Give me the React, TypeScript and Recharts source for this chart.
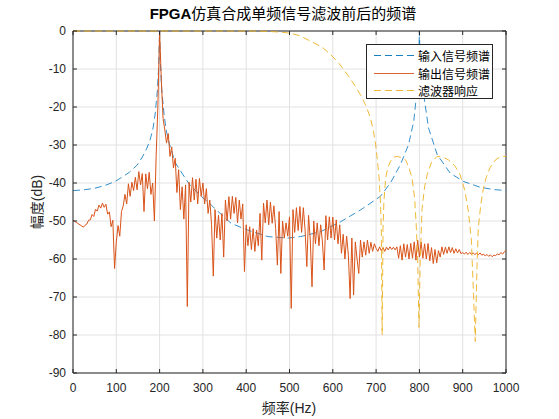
import { CartesianGrid, Line, LineChart, ReferenceLine, XAxis, YAxis } from 'recharts';

// 频率轴 / 幅度轴刻度
const freqTicks = [0, 100, 200, 300, 400, 500, 600, 700, 800, 900, 1000];
const dbTicks = [-90, -80, -70, -60, -50, -40, -30, -20, -10, 0];

// 输入信号频谱 (blue dashed)
const inputFreq = [
  0, 25, 50, 75, 97, 110, 130, 148, 160, 170, 178, 185, 190, 195, 198, 200,
  202, 205, 210, 215, 222, 236, 259, 270, 297, 312, 335, 365, 404, 450, 496,
  526, 572, 618, 664, 710, 733, 756, 775, 787, 795, 798, 800, 802, 805, 810,
  821, 841, 871, 902, 940, 970, 1000,
];
const inputDb = [
  -42, -41.8, -41.4, -40.6, -39.6, -38.7, -37.2, -35.3, -33.2, -31, -28.7, -25.5, -21.6, -15.5, -9, 0,
  -9, -15.5, -21.6, -26, -29.5, -34.6, -38.7, -40.5, -43.6, -45, -47.5, -50.6, -52.4, -54.1, -54.5,
  -54.1, -52.8, -50.2, -47.1, -43.5, -40, -35.2, -29.9, -23.7, -15, -9, 0, -9, -13, -16.8,
  -25.5, -32.5, -37.4, -39.6, -41.1, -41.7, -42,
];

// 滤波器响应 (yellow dashed)
const filterFreq = [
  0, 100, 200, 300, 400, 450, 480, 503, 525, 549, 575, 595, 615, 634, 650, 664,
  677, 687, 694, 699, 703, 707, 710, 712, 714, 716, 718, 722, 727, 733, 741,
  749, 758, 768, 776, 783, 789, 793, 796, 799, 802, 806, 812, 818, 828, 841,
  854, 867, 882, 894, 905, 913, 920, 925, 929, 933, 936, 942, 948, 955, 963,
  975, 985, 994, 1000,
];
const filterDb = [
  0, 0, 0, 0, 0, -0.1, -0.3, -0.6, -1.3, -2.7, -4.2, -6.2, -8.6, -11.5, -14.2, -16.8,
  -19.8, -22.9, -26.5, -29.9, -34, -38.7, -45, -51.8, -80, -52, -45, -38.7, -36, -34.3, -33.2,
  -33, -33.3, -33.9, -36, -38.7, -44, -51.8, -60, -78, -60, -47, -41, -37.8, -34.5, -33,
  -33.2, -33.9, -35.5, -37.8, -42, -47.4, -55, -69.4, -81.7, -62, -51.8, -45.5, -41.3, -38.3, -36,
  -34, -33.2, -33, -33,
];

// 输出信号频谱 (orange), one value every 4 Hz
const outputDb = [
  // 0 - 96
  -49.8, -50.1, -50.4, -50.7, -51.0, -51.3, -51.6, -51.1, -50.8, -49.8, -49.7, -48.3, -48.8,
  -46.9, -47.4, -45.8, -46.6, -45.3, -46.4, -45.6, -48.2, -47.6, -51.5, -49.8, -62.5,
  // 100 - 196
  -55.5, -51.2, -54.0, -47.5, -46.0, -43.0, -45.5, -40.2, -43.5, -39.8, -42.0, -38.5, -41.8,
  -37.0, -40.5, -37.5, -47.5, -37.6, -41.5, -37.2, -43.0, -40.0, -50.0, -33.0, -20.0,
  // 200 - 296
  0, -13.0, -23.0, -26.0, -29.5, -27.0, -33.0, -30.5, -36.0, -33.5, -42.5, -36.5, -47.0,
  -41.0, -49.5, -40.5, -72.5, -39.8, -45.0, -38.6, -44.5, -39.0, -45.5, -38.8, -43.5,
  // 300 - 396
  -40.0, -45.5, -41.5, -48.0, -44.5, -51.0, -64.5, -47.0, -54.5, -48.5, -55.0, -48.0, -59.5,
  -44.5, -50.0, -43.6, -49.5, -43.5, -48.0, -43.8, -50.5, -44.5, -49.5, -45.5, -63.3,
  // 400 - 496
  -51.0, -56.5, -51.5, -57.5, -52.0, -58.0, -52.4, -56.5, -48.0, -60.3, -45.3, -50.5, -44.5,
  -51.0, -45.0, -50.6, -46.0, -52.0, -61.6, -47.5, -63.8, -50.0, -54.5, -50.5, -54.0,
  // 500 - 596
  -48.9, -73.0, -47.0, -53.0, -46.5, -52.5, -46.2, -53.0, -46.5, -52.4, -62.0, -48.5, -55.0,
  -67.3, -50.0, -56.0, -50.5, -56.5, -51.0, -55.5, -62.9, -48.6, -55.0, -48.9, -54.5,
  // 600 - 696
  -49.0, -55.0, -49.7, -56.0, -51.0, -58.5, -53.5, -60.0, -54.0, -59.0, -70.4, -54.5, -69.5,
  -55.5, -60.0, -63.8, -55.0, -59.5, -55.5, -59.0, -55.0, -58.5, -55.6, -58.0, -56.0,
  // 700 - 796
  -57.2, -58.0, -56.8, -57.8, -57.0, -58.0, -56.9, -57.6, -56.8, -57.5, -56.9, -57.6, -56.8,
  -59.8, -56.5, -60.3, -56.0, -59.5, -56.2, -60.0, -55.9, -59.8, -55.5, -60.3, -55.0,
  // 800 - 896
  -59.5, -55.5, -59.8, -56.0, -60.0, -55.9, -60.5, -57.0, -61.2, -57.5, -61.0, -57.8, -59.5,
  -56.8, -58.8, -56.9, -58.5, -56.8, -58.3, -57.0, -58.5, -57.3, -58.4, -57.5, -58.6,
  // 900 - 1000
  -58.3, -58.7, -58.2, -58.8, -58.3, -58.7, -58.4, -58.8, -58.5, -58.9, -58.4, -59.0, -58.7,
  -59.2, -58.8, -59.3, -58.9, -59.4, -59.0, -59.1, -58.7, -58.9, -58.3, -58.7, -58.1, -57.8,
];
const outputStep = 4;

const inputData = inputFreq.map((f, i) => ({ f, db: inputDb[i] }));
const filterData = filterFreq.map((f, i) => ({ f, db: filterDb[i] }));
const outputData = outputDb.map((db, i) => ({ f: i * outputStep, db }));

const W = 559;
const H = 419;
const PLOT_W = 433;
const PLOT_H = 342;
const AXIS = '#262626';
const FONT = '"Liberation Sans", Arial, "Noto Sans CJK SC", sans-serif';

function XTick({ x, y, payload }: any) {
  return (
    <g>
      <line x1={x} x2={x} y1={y} y2={y - 4} stroke={AXIS} />
      <line x1={x} x2={x} y1={y - PLOT_H} y2={y - PLOT_H + 4} stroke={AXIS} />
      <text x={x} y={y + 19} textAnchor="middle" fontSize={12} fill={AXIS} fontFamily={FONT}>
        {payload.value}
      </text>
    </g>
  );
}

function YTick({ x, y, payload }: any) {
  return (
    <g>
      <line x1={x} x2={x + 4} y1={y} y2={y} stroke={AXIS} />
      <line x1={x + PLOT_W} x2={x + PLOT_W - 4} y1={y} y2={y} stroke={AXIS} />
      <text x={x - 7} y={y + 4} textAnchor="end" fontSize={12} fill={AXIS} fontFamily={FONT}>
        {payload.value}
      </text>
    </g>
  );
}

const legendItems = [
  { name: '输入信号频谱', color: '#0072BD', dash: '7 4' },
  { name: '输出信号频谱', color: '#D95319', dash: undefined },
  { name: '滤波器响应', color: '#EDB120', dash: '7 4' },
];

export default function App() {
  return (
    <div style={{ position: 'relative', width: W, height: H, background: '#fff', fontFamily: FONT }}>
      <style>{'body{margin:0;}'}</style>
      <LineChart width={W} height={H} margin={{ top: 31, right: 53, bottom: 0, left: 0 }}>
        <CartesianGrid stroke="#e2e2e2" />
        <XAxis
          dataKey="f"
          type="number"
          domain={[0, 1000]}
          ticks={freqTicks}
          interval={0}
          height={46}
          tickSize={0}
          tickMargin={0}
          tickLine={false}
          axisLine={{ stroke: AXIS }}
          tick={(p: any) => <XTick {...p} />}
        />
        <YAxis
          type="number"
          domain={[-90, 0]}
          ticks={dbTicks}
          interval={0}
          width={73}
          tickSize={0}
          tickMargin={0}
          tickLine={false}
          axisLine={{ stroke: AXIS }}
          tick={(p: any) => <YTick {...p} />}
        />
        <ReferenceLine y={0} stroke={AXIS} />
        <ReferenceLine x={1000} stroke={AXIS} />
        <Line
          data={inputData}
          dataKey="db"
          type="linear"
          stroke="#0072BD"
          strokeWidth={0.8}
          strokeDasharray="7 4"
          dot={false}
          isAnimationActive={false}
        />
        <Line
          data={outputData}
          dataKey="db"
          type="linear"
          stroke="#D95319"
          strokeWidth={1}
          dot={false}
          isAnimationActive={false}
        />
        <Line
          data={filterData}
          dataKey="db"
          type="linear"
          stroke="#EDB120"
          strokeWidth={0.9}
          strokeDasharray="7 4"
          dot={false}
          isAnimationActive={false}
        />
      </LineChart>

      <div
        style={{
          position: 'absolute',
          left: 0,
          width: 566,
          top: 5,
          textAlign: 'center',
          fontSize: 15,
          color: '#000',
          lineHeight: '18px',
          whiteSpace: 'nowrap',
        }}
      >
        <b>FPGA</b>仿真合成单频信号滤波前后的频谱
      </div>
      <div
        style={{
          position: 'absolute',
          left: 239,
          width: 100,
          top: 399,
          textAlign: 'center',
          fontSize: 14,
          color: AXIS,
          lineHeight: '18px',
        }}
      >
        频率(Hz)
      </div>
      <div
        style={{
          position: 'absolute',
          left: 37 - 50,
          top: 202 - 9,
          width: 100,
          textAlign: 'center',
          fontSize: 14,
          color: AXIS,
          lineHeight: '18px',
          transform: 'rotate(-90deg)',
        }}
      >
        幅度(dB)
      </div>

      <div
        style={{
          position: 'absolute',
          left: 366,
          top: 44,
          width: 125,
          height: 53,
          border: `1px solid ${AXIS}`,
          background: '#fff',
        }}
      >
        {legendItems.map((it, i) => (
          <div
            key={it.name}
            style={{
              position: 'absolute',
              left: 0,
              top: 2 + i * 17.5,
              height: 17,
              display: 'flex',
              alignItems: 'center',
              fontSize: 12,
              color: '#000',
            }}
          >
            <svg width={50} height={17}>
              <line
                x1={7}
                x2={47}
                y1={8.5}
                y2={8.5}
                stroke={it.color}
                strokeWidth={0.9}
                strokeDasharray={it.dash}
              />
            </svg>
            <span style={{ marginLeft: 1 }}>{it.name}</span>
          </div>
        ))}
      </div>
    </div>
  );
}
